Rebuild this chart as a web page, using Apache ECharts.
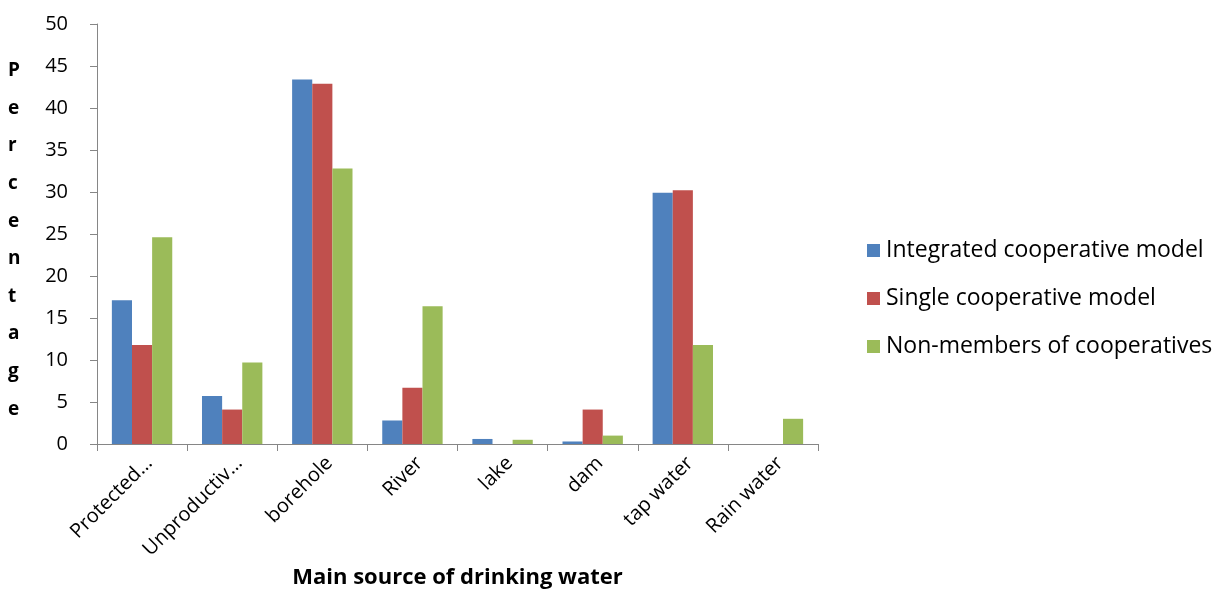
<!DOCTYPE html>
<html>
<head>
<meta charset="utf-8">
<script src="https://cdn.jsdelivr.net/npm/echarts@6/dist/echarts.min.js"></script>
<style>
  html, body { margin: 0; padding: 0; background: #fff; }
  #chart { width: 1220px; height: 594px; }
</style>
</head>
<body>
<div id="chart"></div>
<script>
// Main source of drinking water, percentage of households per group
const categories = ['Protected…', 'Unproductiv…', 'borehole', 'River', 'lake', 'dam', 'tap water', 'Rain water'];
const integrated = [17.1, 5.7, 43.4, 2.8, 0.6, 0.3, 29.9, 0];
const single = [11.8, 4.1, 42.9, 6.7, 0, 4.1, 30.2, 0];
const nonMembers = [24.6, 9.7, 32.8, 16.4, 0.5, 1.0, 11.8, 3.0];
const seriesNames = ['Integrated cooperative model', 'Single cooperative model', 'Non-members of cooperatives'];
const yTicks = { min: 0, max: 50, interval: 5 };

const FONT = '"Open Sans", Lato, sans-serif';
const axisGray = '#868686';
const colors = ['#4f81bd', '#c0504d', '#9bbb59'];

const chart = echarts.init(document.getElementById('chart'), null, { renderer: 'canvas' });

const mkSeries = (name, data, color) => ({
  name, type: 'bar', data,
  barGap: '0%', barCategoryGap: '33%',
  itemStyle: { color }
});

chart.setOption({
  animation: false,
  textStyle: { fontFamily: FONT },
  color: colors,
  grid: { left: 97, right: 402, top: 24, bottom: 148, containLabel: false },
  legend: {
    orient: 'vertical',
    left: 862, top: 234,
    itemWidth: 13, itemHeight: 13, itemGap: 25,
    icon: 'rect',
    textStyle: { fontFamily: FONT, fontSize: 23, color: '#000', padding: [0, 0, 0, 1] },
    data: seriesNames
  },
  xAxis: {
    type: 'category',
    data: categories,
    name: 'Main source of drinking water',
    nameLocation: 'middle',
    nameGap: 123,
    nameTextStyle: { fontFamily: FONT, fontSize: 22, fontWeight: 'bold', color: '#000' },
    axisLine: { lineStyle: { color: axisGray, width: 1 } },
    axisTick: { show: true, length: 7, alignWithLabel: false, lineStyle: { color: axisGray } },
    axisLabel: { rotate: 45, fontSize: 20, color: '#000', margin: 9, verticalAlign: 'top', fontFamily: FONT },
    splitLine: { show: false }
  },
  yAxis: {
    type: 'value',
    min: yTicks.min, max: yTicks.max, interval: yTicks.interval,
    axisLine: { show: true, lineStyle: { color: axisGray, width: 1 } },
    axisTick: { show: true, length: 7, lineStyle: { color: axisGray } },
    axisLabel: { fontSize: 20, color: '#000', margin: 29, fontFamily: FONT },
    splitLine: { show: false }
  },
  graphic: [{
    type: 'text',
    left: 8, top: 52,
    style: {
      text: 'Percentage'.split('').join('\n'),
      fontFamily: FONT, fontSize: 19, fontWeight: 'bold',
      lineHeight: 37.6, fill: '#000', align: 'center'
    }
  }],
  series: [
    mkSeries(seriesNames[0], integrated, colors[0]),
    mkSeries(seriesNames[1], single, colors[1]),
    mkSeries(seriesNames[2], nonMembers, colors[2])
  ]
});
</script>
</body>
</html>
